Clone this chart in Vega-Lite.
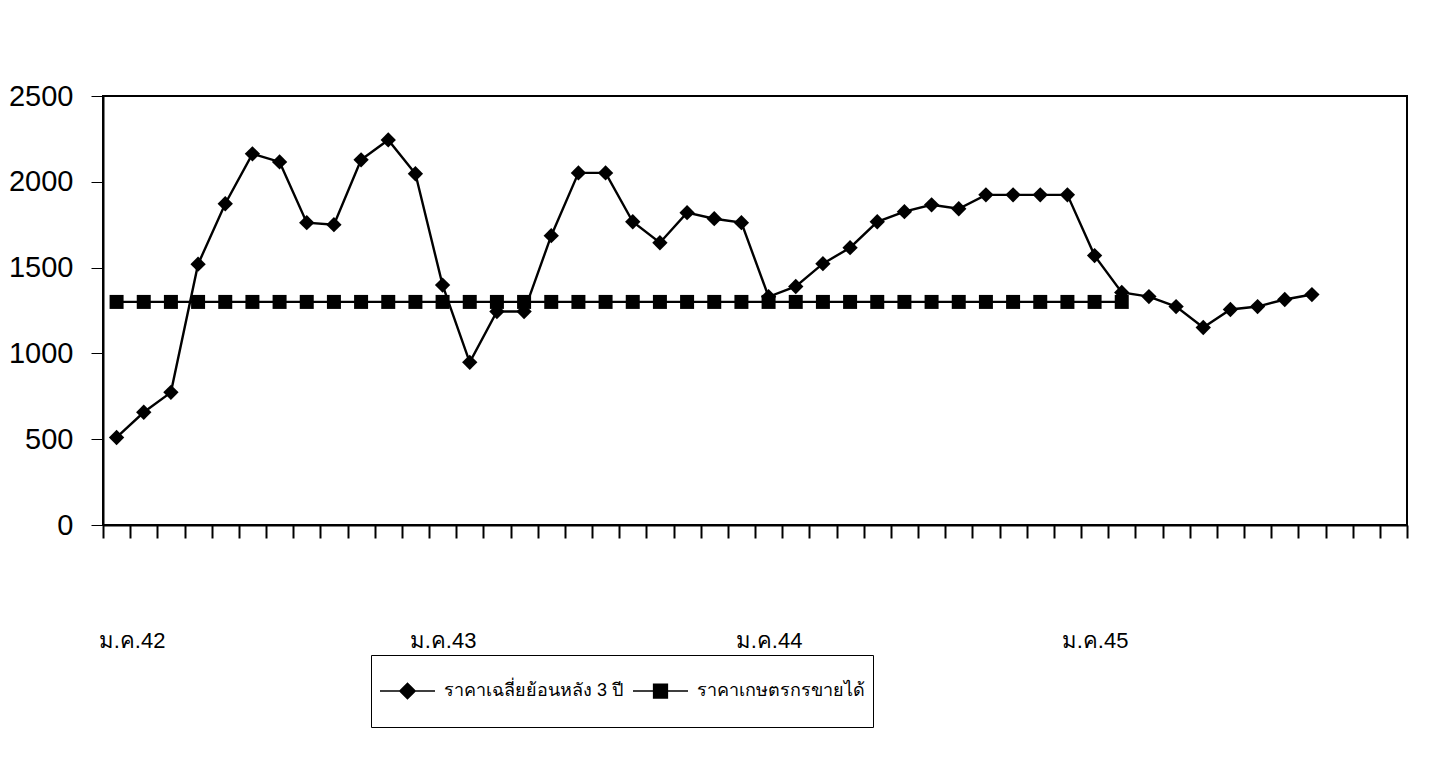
{
  "$schema": "https://vega.github.io/schema/vega-lite/v6.json",
  "width": 1304,
  "height": 429,
  "autosize": "none",
  "padding": {"left": 103, "top": 96, "right": 39, "bottom": 238},
  "background": "white",
  "config": {
    "view": {"stroke": "black", "strokeWidth": 2},
    "font": "Liberation Sans"
  },
  "data": {
    "values": [
      {"i": 1, "month": "ม.ค.42", "ราคาเฉลี่ยย้อนหลัง 3 ปี": 510, "ราคาเกษตรกรขายได้": 1300},
      {"i": 2, "month": "ก.พ.42", "ราคาเฉลี่ยย้อนหลัง 3 ปี": 657, "ราคาเกษตรกรขายได้": 1300},
      {"i": 3, "month": "มี.ค.42", "ราคาเฉลี่ยย้อนหลัง 3 ปี": 773, "ราคาเกษตรกรขายได้": 1300},
      {"i": 4, "month": "เม.ย.42", "ราคาเฉลี่ยย้อนหลัง 3 ปี": 1520, "ราคาเกษตรกรขายได้": 1300},
      {"i": 5, "month": "พ.ค.42", "ราคาเฉลี่ยย้อนหลัง 3 ปี": 1872, "ราคาเกษตรกรขายได้": 1300},
      {"i": 6, "month": "มิ.ย.42", "ราคาเฉลี่ยย้อนหลัง 3 ปี": 2163, "ราคาเกษตรกรขายได้": 1300},
      {"i": 7, "month": "ก.ค.42", "ราคาเฉลี่ยย้อนหลัง 3 ปี": 2116, "ราคาเกษตรกรขายได้": 1300},
      {"i": 8, "month": "ส.ค.42", "ราคาเฉลี่ยย้อนหลัง 3 ปี": 1762, "ราคาเกษตรกรขายได้": 1300},
      {"i": 9, "month": "ก.ย.42", "ราคาเฉลี่ยย้อนหลัง 3 ปี": 1750, "ราคาเกษตรกรขายได้": 1300},
      {"i": 10, "month": "ต.ค.42", "ราคาเฉลี่ยย้อนหลัง 3 ปี": 2128, "ราคาเกษตรกรขายได้": 1300},
      {"i": 11, "month": "พ.ย.42", "ราคาเฉลี่ยย้อนหลัง 3 ปี": 2244, "ราคาเกษตรกรขายได้": 1300},
      {"i": 12, "month": "ธ.ค.42", "ราคาเฉลี่ยย้อนหลัง 3 ปี": 2047, "ราคาเกษตรกรขายได้": 1300},
      {"i": 13, "month": "ม.ค.43", "ราคาเฉลี่ยย้อนหลัง 3 ปี": 1398, "ราคาเกษตรกรขายได้": 1300},
      {"i": 14, "month": "ก.พ.43", "ราคาเฉลี่ยย้อนหลัง 3 ปี": 948, "ราคาเกษตรกรขายได้": 1300},
      {"i": 15, "month": "มี.ค.43", "ราคาเฉลี่ยย้อนหลัง 3 ปี": 1244, "ราคาเกษตรกรขายได้": 1300},
      {"i": 16, "month": "เม.ย.43", "ราคาเฉลี่ยย้อนหลัง 3 ปี": 1244, "ราคาเกษตรกรขายได้": 1300},
      {"i": 17, "month": "พ.ค.43", "ราคาเฉลี่ยย้อนหลัง 3 ปี": 1686, "ราคาเกษตรกรขายได้": 1300},
      {"i": 18, "month": "มิ.ย.43", "ราคาเฉลี่ยย้อนหลัง 3 ปี": 2052, "ราคาเกษตรกรขายได้": 1300},
      {"i": 19, "month": "ก.ค.43", "ราคาเฉลี่ยย้อนหลัง 3 ปี": 2052, "ราคาเกษตรกรขายได้": 1300},
      {"i": 20, "month": "ส.ค.43", "ราคาเฉลี่ยย้อนหลัง 3 ปี": 1767, "ราคาเกษตรกรขายได้": 1300},
      {"i": 21, "month": "ก.ย.43", "ราคาเฉลี่ยย้อนหลัง 3 ปี": 1645, "ราคาเกษตรกรขายได้": 1300},
      {"i": 22, "month": "ต.ค.43", "ราคาเฉลี่ยย้อนหลัง 3 ปี": 1820, "ราคาเกษตรกรขายได้": 1300},
      {"i": 23, "month": "พ.ย.43", "ราคาเฉลี่ยย้อนหลัง 3 ปี": 1785, "ราคาเกษตรกรขายได้": 1300},
      {"i": 24, "month": "ธ.ค.43", "ราคาเฉลี่ยย้อนหลัง 3 ปี": 1762, "ราคาเกษตรกรขายได้": 1300},
      {"i": 25, "month": "ม.ค.44", "ราคาเฉลี่ยย้อนหลัง 3 ปี": 1330, "ราคาเกษตรกรขายได้": 1300},
      {"i": 26, "month": "ก.พ.44", "ราคาเฉลี่ยย้อนหลัง 3 ปี": 1390, "ราคาเกษตรกรขายได้": 1300},
      {"i": 27, "month": "มี.ค.44", "ราคาเฉลี่ยย้อนหลัง 3 ปี": 1523, "ราคาเกษตรกรขายได้": 1300},
      {"i": 28, "month": "เม.ย.44", "ราคาเฉลี่ยย้อนหลัง 3 ปี": 1616, "ราคาเกษตรกรขายได้": 1300},
      {"i": 29, "month": "พ.ค.44", "ราคาเฉลี่ยย้อนหลัง 3 ปี": 1767, "ราคาเกษตรกรขายได้": 1300},
      {"i": 30, "month": "มิ.ย.44", "ราคาเฉลี่ยย้อนหลัง 3 ปี": 1826, "ราคาเกษตรกรขายได้": 1300},
      {"i": 31, "month": "ก.ค.44", "ราคาเฉลี่ยย้อนหลัง 3 ปี": 1866, "ราคาเกษตรกรขายได้": 1300},
      {"i": 32, "month": "ส.ค.44", "ราคาเฉลี่ยย้อนหลัง 3 ปี": 1843, "ราคาเกษตรกรขายได้": 1300},
      {"i": 33, "month": "ก.ย.44", "ราคาเฉลี่ยย้อนหลัง 3 ปี": 1924, "ราคาเกษตรกรขายได้": 1300},
      {"i": 34, "month": "ต.ค.44", "ราคาเฉลี่ยย้อนหลัง 3 ปี": 1924, "ราคาเกษตรกรขายได้": 1300},
      {"i": 35, "month": "พ.ย.44", "ราคาเฉลี่ยย้อนหลัง 3 ปี": 1924, "ราคาเกษตรกรขายได้": 1300},
      {"i": 36, "month": "ธ.ค.44", "ราคาเฉลี่ยย้อนหลัง 3 ปี": 1924, "ราคาเกษตรกรขายได้": 1300},
      {"i": 37, "month": "ม.ค.45", "ราคาเฉลี่ยย้อนหลัง 3 ปี": 1570, "ราคาเกษตรกรขายได้": 1300},
      {"i": 38, "month": "ก.พ.45", "ราคาเฉลี่ยย้อนหลัง 3 ปี": 1355, "ราคาเกษตรกรขายได้": 1300},
      {"i": 39, "month": "มี.ค.45", "ราคาเฉลี่ยย้อนหลัง 3 ปี": 1331},
      {"i": 40, "month": "เม.ย.45", "ราคาเฉลี่ยย้อนหลัง 3 ปี": 1273},
      {"i": 41, "month": "พ.ค.45", "ราคาเฉลี่ยย้อนหลัง 3 ปี": 1151},
      {"i": 42, "month": "มิ.ย.45", "ราคาเฉลี่ยย้อนหลัง 3 ปี": 1256},
      {"i": 43, "month": "ก.ค.45", "ราคาเฉลี่ยย้อนหลัง 3 ปี": 1273},
      {"i": 44, "month": "ส.ค.45", "ราคาเฉลี่ยย้อนหลัง 3 ปี": 1314},
      {"i": 45, "month": "ก.ย.45", "ราคาเฉลี่ยย้อนหลัง 3 ปี": 1343}
    ]
  },
  "transform": [
    {"fold": ["ราคาเฉลี่ยย้อนหลัง 3 ปี", "ราคาเกษตรกรขายได้"], "as": ["series", "price"]},
    {"filter": "isValid(datum.price)"}
  ],
  "encoding": {
    "x": {
      "field": "month",
      "type": "ordinal",
      "bandPosition": 0.5,
      "scale": {
        "type": "band",
        "paddingInner": 0,
        "paddingOuter": 0,
        "domain": ["ม.ค.42","ก.พ.42","มี.ค.42","เม.ย.42","พ.ค.42","มิ.ย.42","ก.ค.42","ส.ค.42","ก.ย.42","ต.ค.42","พ.ย.42","ธ.ค.42",
                   "ม.ค.43","ก.พ.43","มี.ค.43","เม.ย.43","พ.ค.43","มิ.ย.43","ก.ค.43","ส.ค.43","ก.ย.43","ต.ค.43","พ.ย.43","ธ.ค.43",
                   "ม.ค.44","ก.พ.44","มี.ค.44","เม.ย.44","พ.ค.44","มิ.ย.44","ก.ค.44","ส.ค.44","ก.ย.44","ต.ค.44","พ.ย.44","ธ.ค.44",
                   "ม.ค.45","ก.พ.45","มี.ค.45","เม.ย.45","พ.ค.45","มิ.ย.45","ก.ค.45","ส.ค.45","ก.ย.45","ต.ค.45","พ.ย.45","ธ.ค.45"]
      },
      "axis": {
        "title": null,
        "tickBand": "extent",
        "domainColor": "black",
        "domainWidth": 2,
        "tickColor": "black",
        "tickWidth": 2,
        "tickSize": 13,
        "labelExpr": "indexof(datum.label, 'ม.ค.') == 0 ? datum.label : ''",
        "labelOverlap": false,
        "labelAngle": 0,
        "labelFontSize": 22,
        "labelColor": "black",
        "labelPadding": 92,
        "labelOffset": {"condition": {"test": "datum.value == 'ม.ค.42'", "value": 15}, "value": 0}
      }
    },
    "y": {
      "field": "price",
      "type": "quantitative",
      "scale": {"domain": [0, 2500], "nice": false},
      "axis": {
        "title": null,
        "values": [0, 500, 1000, 1500, 2000, 2500],
        "format": "d",
        "grid": false,
        "domainColor": "black",
        "domainWidth": 2,
        "tickColor": "black",
        "tickSize": 12,
        "tickWidth": 1,
        "labelFontSize": 29,
        "labelColor": "black",
        "labelPadding": 18
      }
    },
    "order": {"field": "i", "type": "quantitative"}
  },
  "layer": [
    {
      "mark": {"type": "line", "color": "black", "strokeWidth": 2.4},
      "encoding": {"detail": {"field": "series", "type": "nominal"}}
    },
    {
      "transform": [{"filter": "datum.series == 'ราคาเฉลี่ยย้อนหลัง 3 ปี'"}],
      "mark": {"type": "point", "shape": "diamond", "filled": true, "color": "black", "size": 235, "opacity": 1}
    },
    {
      "transform": [{"filter": "datum.series == 'ราคาเกษตรกรขายได้'"}],
      "mark": {"type": "point", "shape": "square", "filled": true, "color": "black", "size": 196, "opacity": 1}
    },
    {
      "mark": {"type": "point", "filled": true, "color": "black", "stroke": "black", "strokeWidth": 2, "size": 3025, "opacity": 0},
      "encoding": {
        "shape": {
          "field": "series",
          "type": "nominal",
          "scale": {
            "domain": ["ราคาเฉลี่ยย้อนหลัง 3 ปี", "ราคาเกษตรกรขายได้"],
            "range": ["M-1,0H1M-0.28,0L0,-0.28L0.28,0L0,0.28Z", "M-1,0H1M-0.25,-0.25H0.25V0.25H-0.25Z"]
          },
          "legend": {
            "title": null,
            "orient": "none",
            "legendX": 268,
            "legendY": 559,
            "direction": "horizontal",
            "strokeColor": "black",
            "fillColor": "white",
            "padding": 8,
            "clipHeight": 56,
            "symbolSize": 3025,
            "symbolOpacity": 1,
            "labelFontSize": 18,
            "labelColor": "black",
            "labelOffset": 8,
            "labelLimit": 400,
            "columnPadding": 8
          }
        }
      }
    }
  ]
}
